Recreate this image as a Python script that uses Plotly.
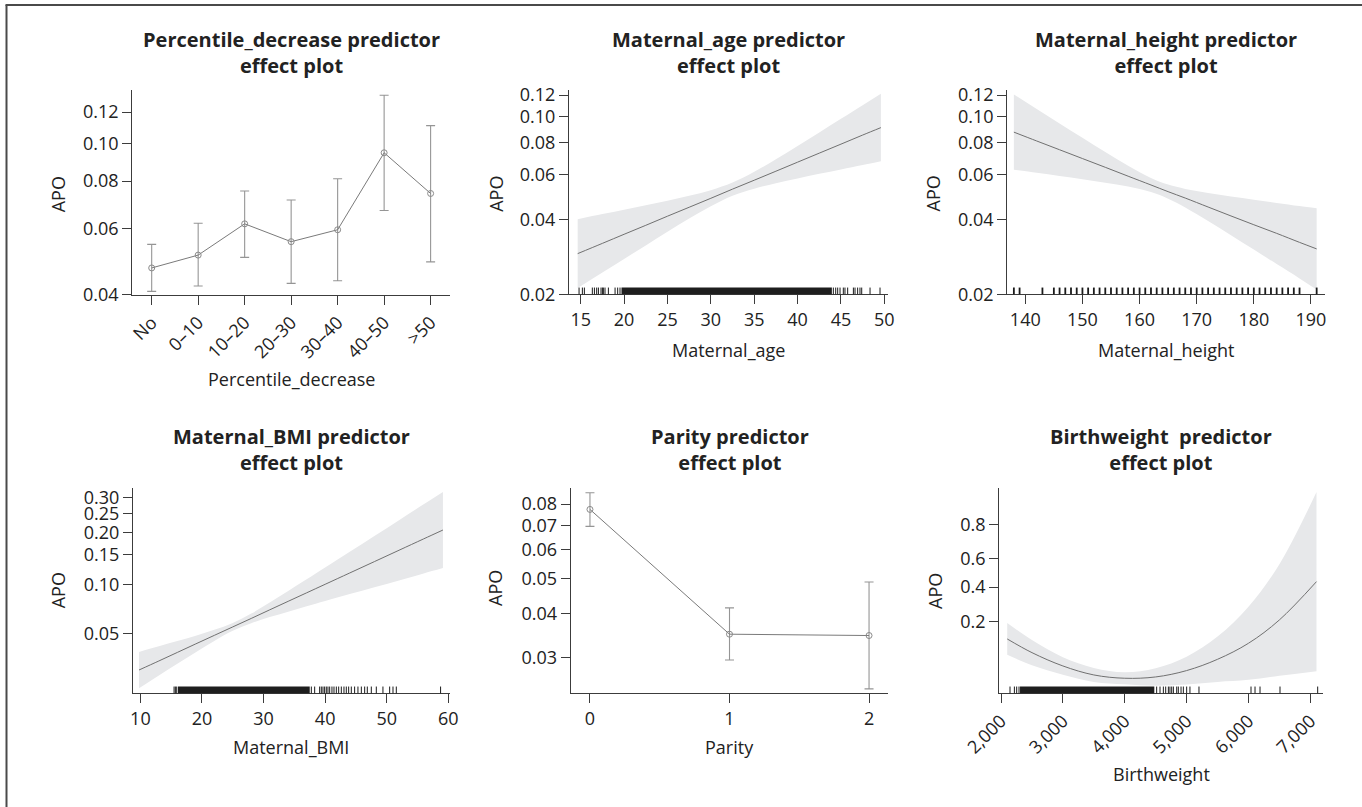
import numpy as np
import plotly.graph_objects as go

W, H = 1362, 807

# ---------------- data ----------------
# Percentile_decrease (categorical effect, probability scale)
pct_categories = ["No", "0–10", "10–20", "20–30", "30–40", "40–50", ">50"]
pct_fit = [0.0471, 0.0510, 0.0618, 0.0554, 0.0596, 0.0947, 0.0743]
pct_lower = [0.0407, 0.0421, 0.0503, 0.0428, 0.0435, 0.0670, 0.0489]
pct_upper = [0.0545, 0.0620, 0.0754, 0.0714, 0.0812, 0.1320, 0.1110]

# Maternal_age
age_x = [14.65, 17.5, 20, 22.5, 25, 27.5, 30, 32.5, 35, 37.5, 40, 42.5, 45, 47.5, 49.6]
age_fit = [0.0292, 0.0321, 0.0349, 0.0379, 0.0412, 0.0447, 0.0485, 0.0527,
           0.0571, 0.0619, 0.0671, 0.0727, 0.0787, 0.0852, 0.0909]
age_lower = [0.0212, 0.0245, 0.0278, 0.0315, 0.0357, 0.0403, 0.0451, 0.0496,
             0.0529, 0.0556, 0.0580, 0.0605, 0.0629, 0.0654, 0.0676]
age_upper = [0.0401, 0.0420, 0.0437, 0.0455, 0.0474, 0.0496, 0.0522, 0.0559,
             0.0616, 0.0689, 0.0775, 0.0872, 0.0981, 0.1102, 0.1214]
age_rug = [14.81, 15.19, 15.42, 16.34, 16.58, 16.84, 17.04, 17.34, 17.50, 17.61,
           17.80, 18.19, 18.96, 19.26, 19.53, 44.12, 44.39, 44.62, 44.89, 45.27,
           45.46, 45.77, 46.43, 46.62, 46.92, 47.19, 47.39, 48.35, 49.50]
age_rug_dense = [19.7, 43.95]

# Maternal_height
height_x = [138, 142, 146, 150, 154, 158, 162, 165, 168, 172, 176, 180, 184, 188, 191]
height_fit = [0.0874, 0.0809, 0.0749, 0.0693, 0.0641, 0.0592, 0.0547, 0.0515,
              0.0486, 0.0448, 0.0413, 0.0381, 0.0352, 0.0324, 0.0305]
height_lower = [0.0627, 0.0610, 0.0593, 0.0576, 0.0558, 0.0539, 0.0513, 0.0483,
                0.0446, 0.0394, 0.0346, 0.0303, 0.0265, 0.0232, 0.0209]
height_upper = [0.1206, 0.1066, 0.0942, 0.0832, 0.0734, 0.0650, 0.0583, 0.0549,
                0.0528, 0.0509, 0.0493, 0.0479, 0.0465, 0.0452, 0.0443]
height_rug = [138, 139, 143, 145, 146, 147, 148, 149, 150, 151, 152, 153, 154, 155,
              156, 157, 158, 159, 160, 161, 162, 163, 164, 165, 166, 167, 168, 169,
              170, 171, 172, 173, 174, 175, 176, 177, 178, 179, 180, 181, 182, 183,
              184, 185, 186, 187, 188, 191]

# Maternal_BMI
bmi_x = [9.78, 13, 16, 19, 22, 25, 28, 31, 34, 37, 40, 44, 48, 52, 56, 59.13]
bmi_fit = [0.0291, 0.0333, 0.0378, 0.0429, 0.0486, 0.0550, 0.0622, 0.0704,
           0.0795, 0.0896, 0.1009, 0.1179, 0.1373, 0.1594, 0.1843, 0.2057]
bmi_lower = [0.0221, 0.0268, 0.0319, 0.0379, 0.0448, 0.0520, 0.0581, 0.0634,
             0.0685, 0.0740, 0.0797, 0.0880, 0.0969, 0.1065, 0.1171, 0.1259]
bmi_upper = [0.0381, 0.0414, 0.0447, 0.0484, 0.0527, 0.0583, 0.0667, 0.0781,
             0.0919, 0.1081, 0.1269, 0.1563, 0.1911, 0.2317, 0.2779, 0.3177]
bmi_rug = [15.47, 15.68, 15.90, 37.76, 38.3, 39.11, 39.38, 39.65, 39.92, 40.19,
           40.46, 40.74, 41.11, 41.44, 41.82, 42.2, 42.63, 43.06, 43.44, 43.82,
           44.25, 44.79, 45.33, 45.88, 46.42, 46.85, 47.5, 48.31, 49.39, 50.48,
           51.02, 51.56, 58.75]
bmi_rug_dense = [16.1, 37.5]

# Parity
parity_levels = [0, 1, 2]
parity_fit = [0.0774, 0.0349, 0.0346]
parity_lower = [0.0696, 0.0295, 0.0244]
parity_upper = [0.0858, 0.0414, 0.0489]

# Birthweight
bw_x = [2100, 2500, 3000, 3500, 4000, 4500, 5000, 5500, 6000, 6500, 7100]
bw_fit = [0.1309, 0.0923, 0.0649, 0.0509, 0.0465, 0.0482, 0.0573, 0.0775,
          0.1174, 0.2062, 0.4382]
bw_lower = [0.0872, 0.0663, 0.0513, 0.0421, 0.0395, 0.0379, 0.0391, 0.0420,
            0.0445, 0.0498, 0.0563]
bw_upper = [0.1919, 0.1273, 0.0818, 0.0615, 0.0546, 0.0611, 0.0831, 0.1387,
            0.2754, 0.5626, 0.9106]
bw_rug = [2145, 2216, 2253, 2291, 4516, 4570, 4624, 4662, 4705, 4731, 4759, 4786,
          4840, 4866, 4910, 4947, 5001, 5054, 5200, 6041, 6106, 6187, 6510, 7119]
bw_rug_dense = [2307, 4478]

# axis ticks (probability labels on a logit scale)
y_ticks_pct = [0.04, 0.06, 0.08, 0.10, 0.12]
y_ticks_age = [0.02, 0.04, 0.06, 0.08, 0.10, 0.12]
y_ticks_height = [0.02, 0.04, 0.06, 0.08, 0.10, 0.12]
y_ticks_bmi = [0.05, 0.10, 0.15, 0.20, 0.25, 0.30]
y_ticks_parity = [0.03, 0.04, 0.05, 0.06, 0.07, 0.08]
y_ticks_bw = [0.2, 0.4, 0.6, 0.8]
x_ticks_age = [15, 20, 25, 30, 35, 40, 45, 50]
x_ticks_height = [140, 150, 160, 170, 180, 190]
x_ticks_bmi = [10, 20, 30, 40, 50, 60]
x_ticks_bw = [2000, 3000, 4000, 5000, 6000, 7000]


def logit(p):
    p = np.asarray(p, dtype=float)
    return np.log(p / (1 - p))


# ---------------- styling ----------------
FONT = "Open Sans"
TXT = "#222222"
AXIS = "#3c3c3c"
BAND = "#e7e8ea"
FIT = "#707070"
BAR = "#959595"

fig = go.Figure()


def xdom(a, b):
    return [a / W, b / W]


def ydom(top, bottom):
    return [1 - bottom / H, 1 - top / H]


panels = [
    # key, x pixel span, y pixel span, x range, y prob range
    dict(k="", xd=(132.3, 450), yd=(90, 295), xr=[-0.417, 6.417], yr=[0.0398, 0.136]),
    dict(k="2", xd=(569, 888), yd=(90, 294.3), xr=[13.65, 50.42], yr=[0.0200, 0.1252]),
    dict(k="3", xd=(1007.3, 1325), yd=(90, 294.3), xr=[136.85, 192.46], yr=[0.0200, 0.1252]),
    dict(k="4", xd=(133, 449.7), yd=(488.3, 693.3), xr=[8.8, 60.23], yr=[0.0205, 0.330]),
    dict(k="5", xd=(570.7, 888.3), yd=(488.3, 693.3), xr=[-0.138, 2.138], yr=[0.0237, 0.0882]),
    dict(k="6", xd=(999.3, 1323), yd=(488.3, 693.3), xr=[1972, 7205], yr=[0.0307, 0.919]),
]

y_tick_sets = [y_ticks_pct, y_ticks_age, y_ticks_height, y_ticks_bmi, y_ticks_parity, y_ticks_bw]
y_tick_fmt = ["{:.2f}", "{:.2f}", "{:.2f}", "{:.2f}", "{:.2f}", "{:.1f}"]

axis_common = dict(
    showline=True, linecolor=AXIS, linewidth=1.2, mirror=False,
    ticks="outside", tickcolor=AXIS, tickwidth=1.1,
    showgrid=False, zeroline=False, automargin=False,
    tickfont=dict(family=FONT, size=18, color=TXT),
)

layout_axes = {}
for i, p in enumerate(panels):
    k = p["k"]
    xa = dict(axis_common, domain=xdom(*p["xd"]), anchor="y" + k,
              range=p["xr"], ticklen=9)
    ticks = y_tick_sets[i]
    ya = dict(axis_common, domain=ydom(*p["yd"]), anchor="x" + k,
              range=list(logit(p["yr"])), ticklen=9,
              tickvals=list(logit(ticks)),
              ticktext=[y_tick_fmt[i].format(t) for t in ticks])
    layout_axes["xaxis" + k] = xa
    layout_axes["yaxis" + k] = ya

layout_axes["xaxis"].update(type="category", tickangle=-45)
layout_axes["xaxis2"].update(tickvals=x_ticks_age)
layout_axes["xaxis3"].update(tickvals=x_ticks_height)
layout_axes["xaxis4"].update(tickvals=x_ticks_bmi)
layout_axes["xaxis5"].update(tickvals=parity_levels)
layout_axes["xaxis6"].update(tickvals=x_ticks_bw,
                             ticktext=[f"{v:,}" for v in x_ticks_bw],
                             tickangle=-45)


# ---------------- traces ----------------
def add_points(xs, fit, lo, hi, k):
    f = logit(fit)
    fig.add_trace(go.Scatter(
        x=xs, y=f, xaxis="x" + k, yaxis="y" + k, mode="lines+markers",
        line=dict(color="#7a7a7a", width=1),
        marker=dict(symbol="circle-open", size=6, color="#8a8a8a",
                    line=dict(width=1, color="#8a8a8a")),
        error_y=dict(type="data", symmetric=False,
                     array=list(logit(hi) - f), arrayminus=list(f - logit(lo)),
                     color=BAR, thickness=1.1, width=4.5),
        hoverinfo="skip"))


def add_band(xs, fit, lo, hi, k):
    fig.add_trace(go.Scatter(
        x=xs, y=logit(lo), xaxis="x" + k, yaxis="y" + k, mode="lines",
        line=dict(width=0, color=BAND, shape="spline"), hoverinfo="skip"))
    fig.add_trace(go.Scatter(
        x=xs, y=logit(hi), xaxis="x" + k, yaxis="y" + k, mode="lines",
        line=dict(width=0, color=BAND, shape="spline"), fill="tonexty",
        fillcolor=BAND, hoverinfo="skip"))
    fig.add_trace(go.Scatter(
        x=xs, y=logit(fit), xaxis="x" + k, yaxis="y" + k, mode="lines",
        line=dict(width=1, color=FIT, shape="spline"), hoverinfo="skip"))


def add_rug(values, dense, k, frac=0.033, width=1.0):
    for v in values:
        fig.add_shape(type="line", xref="x" + k, yref=f"y{k} domain",
                      x0=v, x1=v, y0=0, y1=frac,
                      line=dict(color="#1a1a1a", width=width))
    if dense:
        fig.add_shape(type="rect", xref="x" + k, yref=f"y{k} domain",
                      x0=dense[0], x1=dense[1], y0=0, y1=frac,
                      fillcolor="#1e1e1e", line=dict(width=0))


add_points(pct_categories, pct_fit, pct_lower, pct_upper, "")
add_band(age_x, age_fit, age_lower, age_upper, "2")
add_rug(age_rug, age_rug_dense, "2")
add_band(height_x, height_fit, height_lower, height_upper, "3")
add_rug(height_rug, None, "3", width=1.8)
add_band(bmi_x, bmi_fit, bmi_lower, bmi_upper, "4")
add_rug(bmi_rug, bmi_rug_dense, "4")
add_points(parity_levels, parity_fit, parity_lower, parity_upper, "5")
add_band(bw_x, bw_fit, bw_lower, bw_upper, "6")
add_rug(bw_rug, bw_rug_dense, "6")

# ---------------- text ----------------
titles = ["Percentile_decrease predictor", "Maternal_age predictor",
          "Maternal_height predictor", "Maternal_BMI predictor",
          "Parity predictor", "Birthweight\u00a0 predictor"]
x_titles = ["Percentile_decrease", "Maternal_age", "Maternal_height",
            "Maternal_BMI", "Parity", "Birthweight"]
x_title_y = [379, 350, 350, 747, 747, 774]
apo_x = [58.3, 495.8, 932.5, 58.3, 495, 935]
apo_y = [194, 194, 194, 590, 588, 591]

annotations = []
for i, p in enumerate(panels):
    cx = (p["xd"][0] + p["xd"][1]) / 2
    ty = 52 if i < 3 else 449.5
    annotations.append(dict(
        text=f"<b>{titles[i]}<br>effect plot</b>", x=cx / W, y=1 - ty / H,
        xref="paper", yref="paper", xanchor="center", yanchor="middle",
        showarrow=False, font=dict(family=FONT, size=20, color=TXT)))
    annotations.append(dict(
        text=x_titles[i], x=cx / W, y=1 - x_title_y[i] / H,
        xref="paper", yref="paper", xanchor="center", yanchor="middle",
        showarrow=False, font=dict(family=FONT, size=18, color=TXT)))
    annotations.append(dict(
        text="APO", x=apo_x[i] / W, y=1 - apo_y[i] / H, textangle=-90,
        xref="paper", yref="paper", xanchor="center", yanchor="middle",
        showarrow=False, font=dict(family=FONT, size=18, color=TXT)))

# outer frame (left and top edges)
frame = [
    dict(type="line", xref="paper", yref="paper", x0=6.5 / W, x1=6.5 / W,
         y0=0, y1=1 - 5 / H, line=dict(color="#4a4a4a", width=2)),
    dict(type="line", xref="paper", yref="paper", x0=5.5 / W, x1=1,
         y0=1 - 5 / H, y1=1 - 5 / H, line=dict(color="#4a4a4a", width=2)),
]
for s in frame:
    fig.add_shape(**s)

fig.update_layout(
    width=W, height=H, margin=dict(l=0, r=0, t=0, b=0),
    paper_bgcolor="white", plot_bgcolor="white", showlegend=False,
    font=dict(family=FONT, size=18, color=TXT),
    annotations=annotations, **layout_axes)

fig.write_html("out.html")
